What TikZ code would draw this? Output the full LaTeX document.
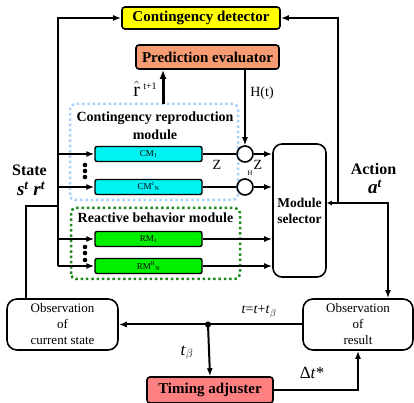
\documentclass[tikz,border=0pt]{standalone}
\usepackage{fontspec}
\setmainfont{Liberation Serif}
\usepackage{amsmath}
\usetikzlibrary{arrows.meta,positioning,calc}

\definecolor{detyellow}{HTML}{FFFF00}
\definecolor{predorange}{HTML}{F79B72}
\definecolor{cmcyan}{HTML}{00F2F2}
\definecolor{rmgreen}{HTML}{00F000}
\definecolor{timred}{HTML}{FF8080}
\definecolor{crmblue}{HTML}{A8D0F8}
\definecolor{rbmgreen}{HTML}{1C8A1C}

\begin{document}
\begin{tikzpicture}[x=1pt,y=1pt,
    blk/.style={draw, line width=1.6pt, rounded corners=3pt, inner sep=0pt, font=\fontsize{15}{17}\selectfont\bfseries},
    mdl/.style={draw, line width=1.4pt, rounded corners=2pt, minimum width=107pt, minimum height=15pt, inner sep=0pt, font=\fontsize{9}{10}\selectfont},
    obs/.style={draw, line width=1.6pt, rounded corners=10pt, minimum width=111pt, minimum height=51pt, inner sep=0pt, align=center, font=\fontsize{13}{16}\selectfont},
    sum/.style={draw, circle, line width=1.6pt, minimum size=16pt, inner sep=0pt},
    jdot/.style={circle, fill=black, inner sep=0pt, minimum size=6pt},
    ln/.style={line width=2pt},
    lnk/.style={line width=2pt, -{Latex[length=8pt,width=6pt]}},
    grp/.style={line width=2.5pt, dash pattern=on 2.5pt off 2.8pt, rounded corners=5pt}]
    \useasboundingbox (0,0) rectangle (414,403);

    % top blocks
    \node[blk, fill=detyellow, minimum width=158pt, minimum height=22pt] (det) at (201,385) {Contingency detector};
    \node[blk, fill=predorange, minimum width=143pt, minimum height=24pt] (pred) at (207.5,346) {Prediction evaluator};

    % module groups
    \draw[grp, crmblue] (70,203) rectangle (238,299);
    \draw[grp, rbmgreen] (71,124) rectangle (240,195);
    \node[font=\fontsize{14}{18}\selectfont\bfseries, align=center] (crmtitle) at (155,277) {Contingency reproduction\\module};
    \node[font=\fontsize{14}{16}\selectfont\bfseries] (rbmtitle) at (155.5,185) {Reactive behavior module};

    \node[mdl, fill=cmcyan] (cm1) at (148.5,249) {CM\textsubscript{1}};
    \node[mdl, fill=cmcyan] (cmn) at (148.5,216) {CM\textsuperscript{c}\textsubscript{N}};
    \node[mdl, fill=rmgreen] (rm1) at (148.5,164) {RM\textsubscript{1}};
    \node[mdl, fill=rmgreen] (rmn) at (148.5,137) {RM\textsuperscript{R}\textsubscript{N}};
    \foreach \y in {238,232,226} \fill (85,\y) circle (2.3pt);
    \foreach \y in {156,150,143} \fill (85,\y) circle (2.3pt);

    \node[sum] (c1) at (245,249) {};
    \node[sum] (c2) at (245,216) {};

    \node[draw, line width=1.6pt, rounded corners=9pt, minimum width=53pt, minimum height=133pt, inner sep=0pt,
          align=center, font=\fontsize{13.5}{16}\selectfont\bfseries] (sel) at (299.5,192.5) {Module\\selector};

    % observation and timing
    \node[obs] (obscur) at (62.5,78.5) {Observation\\of\\current state};
    \node[obs, minimum width=110pt] (obsres) at (358,78.5) {Observation\\of\\result};
    \node[blk, fill=timred, minimum width=126pt, minimum height=26pt] (tim) at (210,13) {Timing adjuster};
    \node[jdot] (jn) at (208,78.5) {};

    % state bus
    \coordinate (ltop) at (58,385);
    \coordinate (sjoin) at (58,197);
    \draw[lnk] (ltop |- rmn.west) -- (ltop) -- (det.west);
    \foreach \m in {cm1,cmn,rm1,rmn}
      \draw[lnk] (ltop |- \m.west) -- (\m.west);
    \draw[ln] ($(obscur.north west)!0.18!(obscur.north east)$) |- (sjoin);

    % module outputs
    \draw[ln] (cm1.east) -- (c1.west);
    \draw[ln] (cmn.east) -- (c2.west);
    \draw[lnk] (c1.east) -- (sel.west |- c1);
    \draw[lnk] (c2.east) -- (sel.west |- c2);
    \draw[lnk] (rm1.east) -- (sel.west |- rm1);
    \draw[lnk] (rmn.east) -- (sel.west |- rmn);

    \coordinate (rsrc) at (163,299);
    \draw[line width=3pt, -{Latex[length=9pt,width=7pt]}] (rsrc) -- (rsrc |- pred.south);
    \draw[line width=1.3pt, -{Latex[length=8pt,width=6pt]}] (pred.south -| c1) -- (c1.north);

    % action
    \coordinate (abr) at (338,200);
    \coordinate (acor) at (388,200);
    \draw[line width=2pt, {Latex[length=5pt,width=5pt]}-{Latex[length=8pt,width=6pt]}] (sel.east |- acor) -- (acor) -- (acor |- obsres.north);
    \draw[lnk] (abr) |- (det.east);

    % result loop
    \draw[lnk] (obsres.west) -- (jn.center) -- (obscur.east);
    \draw[lnk] (jn.center) -- (tim.north);
    \draw[line width=2.5pt, -{Latex[length=8pt,width=6pt]}] (tim.east) -| (obsres.south);

    % labels
    \node[font=\fontsize{20}{22}\selectfont] (rhat) at (145,314) {$\hat{\mathrm{r}}$\,{\fontsize{10}{11}\selectfont\raisebox{7pt}{t+1}}};
    \node[font=\fontsize{14}{16}\selectfont] (hlab) at (262,310) {H(t)};
    \node[font=\fontsize{14}{16}\selectfont] (z1) at (217,238) {Z};
    \node[font=\fontsize{14}{16}\selectfont] (z2) at (258,238) {Z};
    \node[font=\fontsize{7}{8}\selectfont] (h1) at (250,230) {H};
    \node[font=\fontsize{16}{18}\selectfont\bfseries] (state) at (29.5,233) {State};
    \node[font=\fontsize{19}{22}\selectfont\bfseries\itshape] (strt) at (31,214) {s\textsuperscript{t} r\textsuperscript{t}};
    \node[font=\fontsize{16}{18}\selectfont\bfseries] (action) at (373.5,234) {Action};
    \node[font=\fontsize{19}{22}\selectfont\bfseries\itshape] (at) at (375,216) {a\textsuperscript{t}};
    \node[font=\fontsize{14}{16}\selectfont] (tnext) at (259,91) {\textit{t}=\textit{t}+\textit{t}$_\beta$};
    \node[font=\fontsize{17}{19}\selectfont] (tb) at (187,50) {\textit{t}$_\beta$};
    \node[font=\fontsize{17}{19}\selectfont] (dt) at (312,30) {Δ\textit{t}*};
  \end{tikzpicture}
\end{document}
